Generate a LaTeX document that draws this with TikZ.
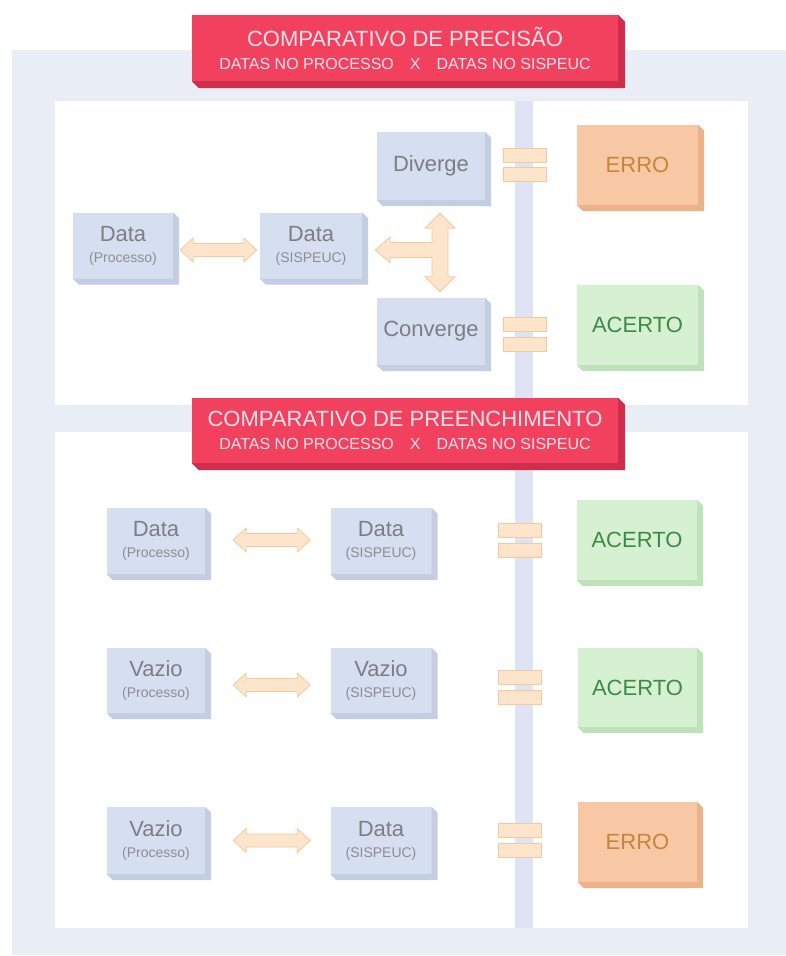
\documentclass[tikz,border=0pt]{standalone}
\usepackage{fontspec}
\setmainfont{Liberation Sans}
\usetikzlibrary{calc}
\definecolor{bgc}{HTML}{E9EDF6}
\definecolor{stripec}{HTML}{DEE4F3}
\definecolor{boxface}{HTML}{D5DFEF}
\definecolor{boxside}{HTML}{C3CEE3}
\definecolor{boxtext}{HTML}{7A7E87}
\definecolor{subtext}{HTML}{8A8E97}
\definecolor{errface}{HTML}{F8C7A3}
\definecolor{errside}{HTML}{ECB28A}
\definecolor{errtext}{HTML}{C4863A}
\definecolor{acface}{HTML}{D5F1D1}
\definecolor{acside}{HTML}{BFE2BB}
\definecolor{actext}{HTML}{3E8A45}
\definecolor{arrfill}{HTML}{FDE5CC}
\definecolor{arrdraw}{HTML}{F5C9A0}
\definecolor{bannerc}{HTML}{F2405F}
\definecolor{bannerside}{HTML}{D02C4C}
\definecolor{bannertext}{HTML}{FCE4E9}
\newcommand{\xtrude}[3]{\fill[#3] (#1.north east) -- ++(#2pt,-#2pt) -- ($(#1.south east)+(#2pt,-#2pt)$) -- ($(#1.south west)+(#2pt,-#2pt)$) -- (#1.south west) -- (#1.south east) -- cycle;}
\newcommand{\harrow}[2]{\filldraw[arrstyle] let \p1=#1, \p2=#2 in (\x1,\y1) -- (\x1+13pt,\y1+12pt) -- (\x1+13pt,\y1+6.5pt) -- (\x2-13pt,\y1+6.5pt) -- (\x2-13pt,\y1+12pt) -- (\x2,\y1) -- (\x2-13pt,\y1-12pt) -- (\x2-13pt,\y1-6.5pt) -- (\x1+13pt,\y1-6.5pt) -- (\x1+13pt,\y1-12pt) -- cycle;}
\newcommand{\bt}[2]{#1\\{\color{subtext}\fontsize{14}{15}\selectfont #2}}
\tikzset{
  bluebox/.style={fill=boxface, inner sep=0pt, text=boxtext, align=center, minimum width=#1, minimum height=66pt, font=\fontsize{22}{21}\selectfont},
  errbox/.style={fill=errface, inner sep=0pt, text=errtext, minimum width=121pt, minimum height=80pt, font=\fontsize{22}{22}\selectfont},
  acbox/.style={fill=acface, inner sep=0pt, text=actext, minimum width=121pt, minimum height=80pt, font=\fontsize{22}{22}\selectfont},
  eqbar/.style={fill=arrfill, draw=arrdraw, line width=0.8pt, inner sep=0pt, minimum width=43pt, minimum height=14pt},
  arrstyle/.style={fill=arrfill, draw=arrdraw, line width=0.8pt, line join=round},
  banner/.style={fill=bannerc, text=bannertext, inner sep=0pt, align=center, minimum width=426pt, minimum height=66pt, font=\fontsize{22}{23}\selectfont},
}
\begin{document}
\begin{tikzpicture}[x=1pt,y=-1pt]
\useasboundingbox (0,0) rectangle (786,956);
\fill[white] (0,0) rectangle (786,956);
% background frame
\fill[bgc] (12,50) rectangle (786,955);
\fill[stripec] (515,101) rectangle (533,928);
\fill[white] (55,101) rectangle (515,405);
\fill[white] (533,101) rectangle (748,405);
\fill[white] (55,432) rectangle (515,928);
\fill[white] (533,432) rectangle (748,928);

% ===== top section =====
\node[bluebox=100pt] (dp1) at (123,245.5) {\bt{Data}{(Processo)}};
\xtrude{dp1}{6}{boxside}
\node[bluebox=102pt] (ds1) at (311,245.5) {\bt{Data}{(SISPEUC)}};
\xtrude{ds1}{6}{boxside}
\node[bluebox=108pt, minimum height=68pt] (dv) at (431,166) {Diverge};
\xtrude{dv}{6}{boxside}
\node[bluebox=108pt, minimum height=67pt] (cv) at (431,331.5) {Converge};
\xtrude{cv}{6}{boxside}
\node[errbox] (erro1) at (637.5,165) {ERRO};
\xtrude{erro1}{6}{errside}
\node[acbox] (ac1) at (637.5,325) {ACERTO};
\xtrude{ac1}{6}{acside}

\node[eqbar] (eq1a) at (524.5,155) {};
\node[eqbar] (eq1b) at (524.5,174) {};
\node[eqbar] (eq2a) at (524.5,324) {};
\node[eqbar] (eq2b) at (524.5,344) {};

\harrow{($(dp1.east)+(7pt,-4.5pt)$)}{($(ds1.west)+(-3pt,-4.5pt)$)}
% T-shaped arrow
\filldraw[arrstyle] let \p1=($(ds1.east)+(13pt,-4.5pt)$), \p2=($(dv.south)+(9pt,-13pt)$), \p3=($(cv.north)+(9pt,6pt)$) in
  (\x1,\y1) -- (\x1+15pt,\y1+13pt) -- (\x1+15pt,\y1+7.5pt) -- (\x2-8pt,\y1+7.5pt) -- (\x2-8pt,\y2-15pt) -- (\x2-15pt,\y2-15pt) -- (\x2,\y2) -- (\x2+15pt,\y2-15pt) -- (\x2+8pt,\y2-15pt) -- (\x2+8pt,\y3+15pt) -- (\x2+15pt,\y3+15pt) -- (\x2,\y3) -- (\x2-15pt,\y3+15pt) -- (\x2-8pt,\y3+15pt) -- (\x2-8pt,\y1-7.5pt) -- (\x1+15pt,\y1-7.5pt) -- (\x1+15pt,\y1-13pt) -- cycle;

% ===== bottom section =====
\node[bluebox=98pt] (dp2) at (156,541) {\bt{Data}{(Processo)}};
\xtrude{dp2}{6}{boxside}
\node[bluebox=101pt] (ds2) at (381,541) {\bt{Data}{(SISPEUC)}};
\xtrude{ds2}{6}{boxside}
\node[acbox, minimum width=120pt] (ac2) at (637,540) {ACERTO};
\xtrude{ac2}{6}{acside}
\node[eqbar] (eq3a) at (520,530) {};
\node[eqbar] (eq3b) at (520,550) {};
\harrow{($(dp2.east)+(28pt,1pt)$)}{($(ds2.west)+(-20pt,1pt)$)}

\node[bluebox=98pt, minimum height=65pt] (vp3) at (156,680.5) {\bt{Vazio}{(Processo)}};
\xtrude{vp3}{6}{boxside}
\node[bluebox=101pt, minimum height=65pt] (vs3) at (381,680.5) {\bt{Vazio}{(SISPEUC)}};
\xtrude{vs3}{6}{boxside}
\node[acbox, minimum width=119pt, minimum height=79pt] (ac3) at (637.5,687.5) {ACERTO};
\xtrude{ac3}{6}{acside}
\node[eqbar] (eq4a) at (520,677.5) {};
\node[eqbar] (eq4b) at (520,697) {};
\harrow{($(vp3.east)+(28pt,-4.5pt)$)}{($(vs3.west)+(-20pt,-4.5pt)$)}

\node[bluebox=98pt, minimum height=67pt] (vp4) at (156,840.5) {\bt{Vazio}{(Processo)}};
\xtrude{vp4}{6}{boxside}
\node[bluebox=101pt, minimum height=67pt] (ds4) at (381,840.5) {\bt{Data}{(SISPEUC)}};
\xtrude{ds4}{6}{boxside}
\node[errbox, minimum width=119pt] (erro4) at (637.5,842) {ERRO};
\xtrude{erro4}{6}{errside}
\node[eqbar] (eq5a) at (520,830.5) {};
\node[eqbar] (eq5b) at (520,850) {};
\harrow{($(vp4.east)+(28pt,0pt)$)}{($(ds4.west)+(-20pt,0pt)$)}

% ===== banners =====
\node[banner] (ban1) at (405,48) {COMPARATIVO DE PRECISÃO\\{\fontsize{16}{17}\selectfont DATAS NO PROCESSO\quad X\quad DATAS NO SISPEUC}};
\xtrude{ban1}{7}{bannerside}
\node[banner, minimum height=65pt] (ban2) at (405,430.5) {COMPARATIVO DE PREENCHIMENTO\\{\fontsize{16}{17}\selectfont DATAS NO PROCESSO\quad X\quad DATAS NO SISPEUC}};
\xtrude{ban2}{7}{bannerside}
\end{tikzpicture}
\end{document}
